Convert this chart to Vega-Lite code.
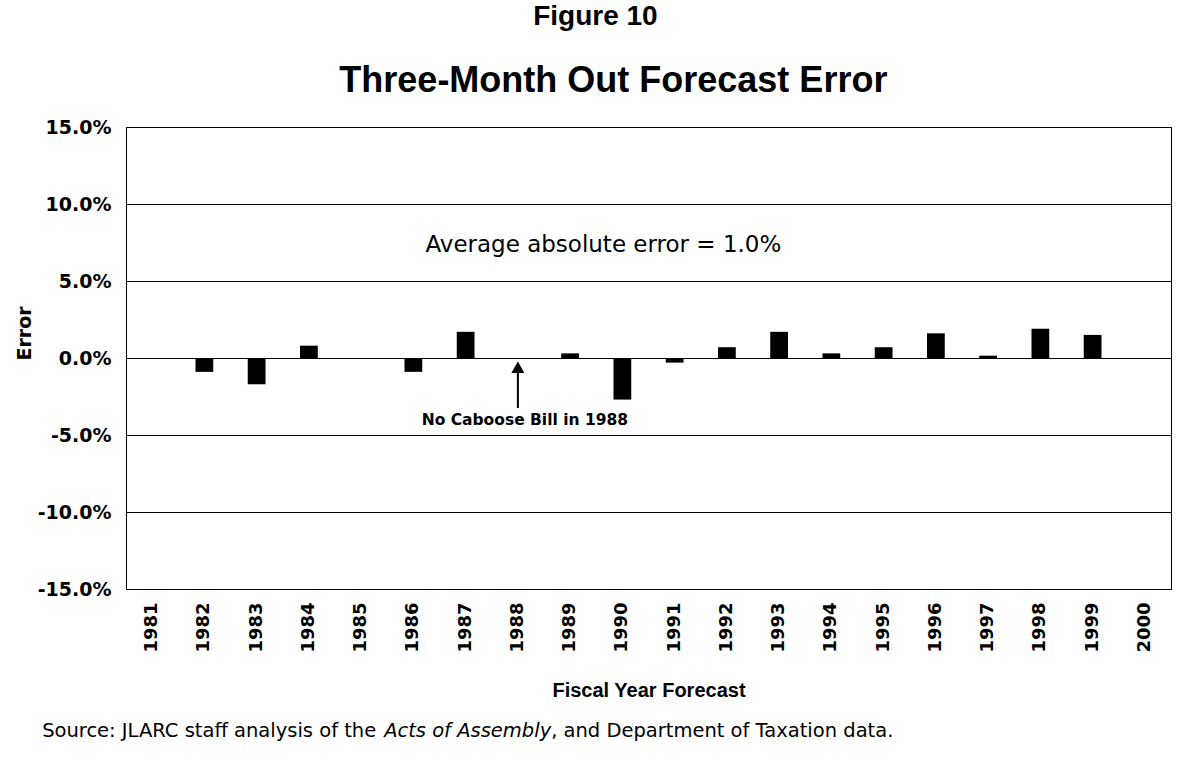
{
  "$schema": "https://vega.github.io/schema/vega-lite/v6.json",
  "width": 1045,
  "height": 462,
  "autosize": {"type": "none"},
  "padding": {"left": 126, "top": 127, "right": 12, "bottom": 172},
  "background": "white",
  "data": {
    "values": [
      {"year": "1981", "error": null},
      {"year": "1982", "error": -0.9},
      {"year": "1983", "error": -1.7},
      {"year": "1984", "error": 0.8},
      {"year": "1985", "error": null},
      {"year": "1986", "error": -0.9},
      {"year": "1987", "error": 1.7},
      {"year": "1988", "error": null},
      {"year": "1989", "error": 0.3},
      {"year": "1990", "error": -2.7},
      {"year": "1991", "error": -0.3},
      {"year": "1992", "error": 0.7},
      {"year": "1993", "error": 1.7},
      {"year": "1994", "error": 0.3},
      {"year": "1995", "error": 0.7},
      {"year": "1996", "error": 1.6},
      {"year": "1997", "error": 0.15},
      {"year": "1998", "error": 1.9},
      {"year": "1999", "error": 1.5},
      {"year": "2000", "error": null}
    ]
  },
  "layer": [
    {
      "mark": {"type": "bar", "color": "black"},
      "encoding": {
        "x": {
          "field": "year",
          "type": "ordinal",
          "scale": {
            "domain": ["1981","1982","1983","1984","1985","1986","1987","1988","1989","1990","1991","1992","1993","1994","1995","1996","1997","1998","1999","2000"],
            "paddingInner": 0.66,
            "paddingOuter": 0.33
          },
          "axis": {
            "title": "Fiscal Year Forecast",
            "labelAngle": -90,
            "labelFont": "DejaVu Sans",
            "labelFontSize": 18,
            "labelFontWeight": "bold",
            "labelColor": "black",
            "labelPadding": 13,
            "ticks": false,
            "domain": false,
            "grid": false,
            "titleFont": "Liberation Sans",
            "titleFontSize": 20,
            "titleFontWeight": "bold",
            "titleColor": "black",
            "titlePadding": 28
          }
        },
        "y": {
          "field": "error",
          "type": "quantitative",
          "scale": {"domain": [-15, 15], "nice": false, "zero": true},
          "axis": {
            "values": [-15, -10, -5, 0, 5, 10, 15],
            "labelExpr": "(datum.value < 0 ? '-' : '') + format(abs(datum.value), '.1f') + '%'",
            "title": "Error",
            "grid": true,
            "gridColor": "black",
            "gridOpacity": 1,
            "gridWidth": 1,
            "ticks": false,
            "domain": false,
            "labelFont": "DejaVu Sans",
            "labelFontSize": 19,
            "labelFontWeight": "bold",
            "labelColor": "black",
            "labelPadding": 15,
            "titleFont": "DejaVu Sans",
            "titleFontSize": 19,
            "titleFontWeight": "bold",
            "titleColor": "black",
            "titlePadding": 3,
            "titleY": 206
          }
        }
      }
    },
    {
      "data": {"values": [{}]},
      "mark": {"type": "text", "font": "Liberation Sans", "fontSize": 36, "fontWeight": "bold", "color": "black", "align": "center", "baseline": "alphabetic", "dx": -9},
      "encoding": {
        "x": {"datum": "1990"},
        "y": {"datum": 17.3},
        "text": {"value": "Three-Month Out Forecast Error"}
      }
    },
    {
      "data": {"values": [{}]},
      "mark": {"type": "text", "font": "DejaVu Sans", "fontSize": 23, "color": "black", "align": "center", "baseline": "alphabetic", "dx": -19},
      "encoding": {
        "x": {"datum": "1990"},
        "y": {"datum": 6.86},
        "text": {"value": "Average absolute error = 1.0%"}
      }
    },
    {
      "data": {"values": [{}]},
      "mark": {"type": "text", "font": "DejaVu Sans", "fontSize": 15.5, "fontWeight": "bold", "color": "black", "align": "center", "baseline": "alphabetic", "dx": 7},
      "encoding": {
        "x": {"datum": "1988"},
        "y": {"datum": -4.33},
        "text": {"value": "No Caboose Bill in 1988"}
      }
    },
    {
      "data": {"values": [{}]},
      "mark": {"type": "rule", "color": "black", "strokeWidth": 2, "dx": 3},
      "encoding": {
        "x": {"datum": "1988"},
        "y": {"datum": -3.25},
        "y2": {"datum": -0.9}
      }
    },
    {
      "data": {"values": [{}]},
      "mark": {"type": "point", "shape": "triangle-up", "filled": true, "color": "black", "opacity": 1, "size": 170, "dx": 3},
      "encoding": {
        "x": {"datum": "1988"},
        "y": {"datum": -0.6}
      }
    },
    {
      "data": {"values": [{}]},
      "mark": {"type": "text", "font": "Liberation Sans", "fontSize": 28, "fontWeight": "bold", "color": "black", "align": "center", "baseline": "alphabetic", "dx": -27},
      "encoding": {
        "x": {"datum": "1990"},
        "y": {"datum": 21.6},
        "text": {"value": "Figure 10"}
      }
    },
    {
      "data": {"values": [{}]},
      "mark": {"type": "text", "font": "DejaVu Sans", "fontSize": 19.5, "color": "black", "align": "left", "baseline": "alphabetic", "dx": -110},
      "encoding": {
        "x": {"datum": "1981"},
        "y": {"datum": -24.6},
        "text": {"value": "Source:  JLARC staff analysis of the"}
      }
    },
    {
      "data": {"values": [{}]},
      "mark": {"type": "text", "font": "DejaVu Sans", "fontSize": 19.5, "fontStyle": "italic", "color": "black", "align": "left", "baseline": "alphabetic", "dx": 232},
      "encoding": {
        "x": {"datum": "1981"},
        "y": {"datum": -24.6},
        "text": {"value": "Acts of Assembly"}
      }
    },
    {
      "data": {"values": [{}]},
      "mark": {"type": "text", "font": "DejaVu Sans", "fontSize": 19.5, "color": "black", "align": "left", "baseline": "alphabetic", "dx": 399},
      "encoding": {
        "x": {"datum": "1981"},
        "y": {"datum": -24.6},
        "text": {"value": ", and Department of Taxation data."}
      }
    }
  ],
  "config": {
    "view": {"stroke": "black", "strokeWidth": 1}
  }
}
